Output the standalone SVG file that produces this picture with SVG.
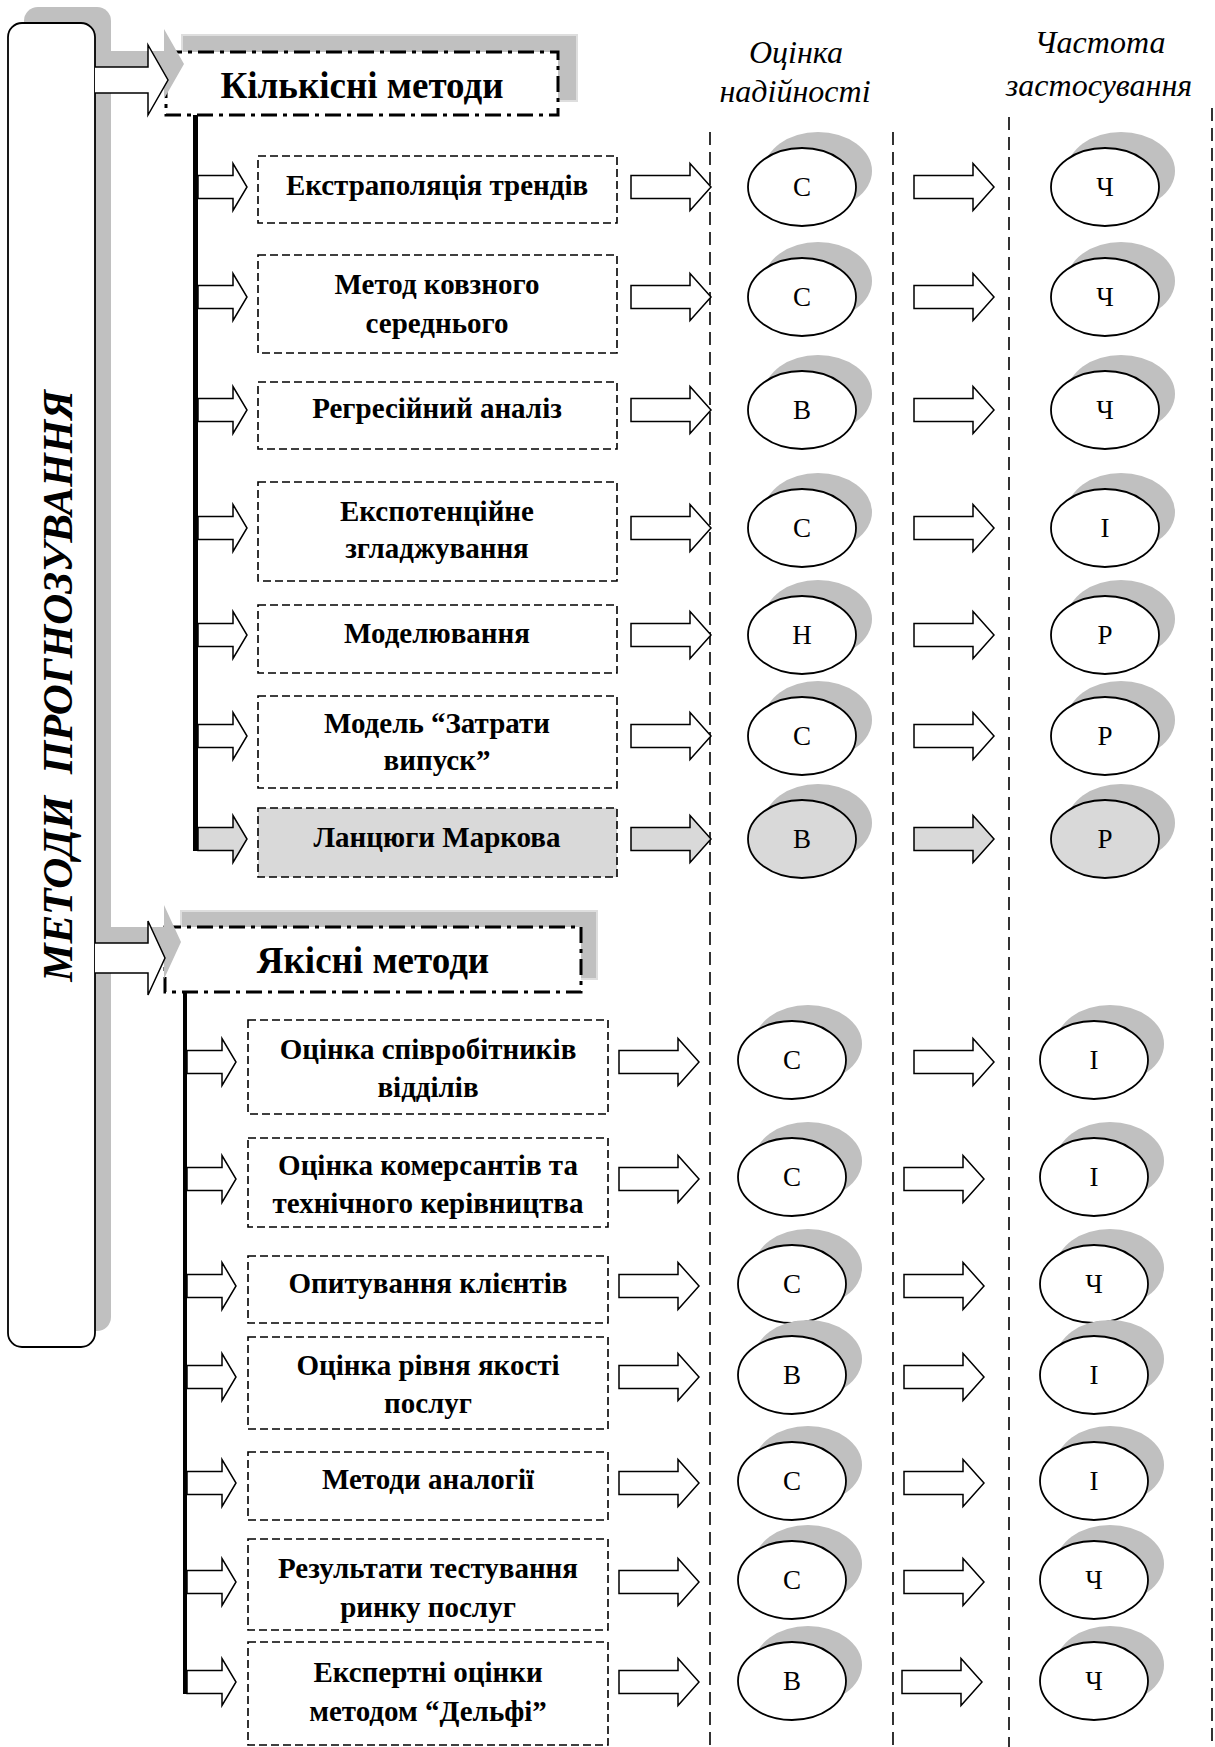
<svg xmlns="http://www.w3.org/2000/svg" width="1215" height="1747" viewBox="0 0 1215 1747">
<style>
.shadow{fill:#c0c0c0;stroke:none}
.hshadow{fill:#c0c0c0;stroke:#dedede;stroke-width:2}
.head{fill:#fff;stroke:#000;stroke-width:3;stroke-dasharray:16 6 4 6}
.box{fill:#fff;stroke:#000;stroke-width:1.6;stroke-dasharray:8 4}
.box.g{fill:#d9d9d9}
.arr{fill:#fff;stroke:#000;stroke-width:1.5;stroke-linejoin:miter}
.arr.g{fill:#d9d9d9}
.ell{fill:#fff;stroke:#000;stroke-width:1.8}
.ell.g{fill:#d9d9d9}
.vl{stroke:#000;stroke-width:1.6;stroke-dasharray:13 7;fill:none}
.t{font-family:"Liberation Serif","Times New Roman","DejaVu Serif",serif;font-weight:bold;font-size:29px;text-anchor:middle;fill:#000}
.ht{font-family:"Liberation Serif","Times New Roman","DejaVu Serif",serif;font-weight:bold;font-size:37px;text-anchor:middle;fill:#000}
.lt{font-family:"Liberation Serif","Times New Roman","DejaVu Serif",serif;font-size:27px;text-anchor:middle;fill:#000}
.ct{font-family:"Liberation Serif","Times New Roman","DejaVu Serif",serif;font-style:italic;font-size:32px;text-anchor:middle;fill:#000}
.title{font-family:"Liberation Serif","Times New Roman","DejaVu Serif",serif;font-style:italic;font-weight:bold;font-size:43px;text-anchor:middle;fill:#000}
</style>
<defs>
<path id="sa" d="M0,-11.5 H35 V-23.5 L49,0 L35,23.5 V11.5 H0 Z"/>
<path id="ra" d="M0,-11.5 H59 V-23.5 L80,0 L59,23.5 V11.5 H0 Z"/>
<ellipse id="el" cx="0" cy="0" rx="54" ry="39"/>
</defs>

<!-- column guides -->
<g id="guides">
<line class="vl" x1="710" y1="132" x2="710" y2="1747"/>
<line class="vl" x1="893" y1="132" x2="893" y2="1747"/>
<line class="vl" x1="1009" y1="117" x2="1009" y2="1747"/>
<line class="vl" x1="1212" y1="108" x2="1212" y2="1747"/>
</g>

<g id="col-headers">
<text class="ct" x="796" y="63">Оцінка</text>
<text class="ct" x="795" y="102">надійності</text>
<text class="ct" x="1100" y="53">Частота</text>
<text class="ct" x="1099" y="96">застосування</text>
</g>

<!-- headings -->
<g id="heading-quant">
<rect class="hshadow" x="182" y="35" width="395" height="66"/>
<rect class="head" x="166" y="52" width="392" height="63"/>
<text class="ht" x="362" y="98">Кількісні методи</text>
</g>
<g id="heading-qual">
<rect class="hshadow" x="181" y="911" width="416" height="68"/>
<rect class="head" x="165" y="927" width="416" height="65"/>
<text class="ht" x="373" y="973">Якісні методи</text>
</g>

<!-- main box -->
<g id="main">
<g transform="translate(16,-16)">
<rect class="shadow" x="8" y="23" width="87" height="1324" rx="14"/>
<path class="shadow" d="M95,67 H148 V45 L168,80 L148,115 V93 H95 Z"/>
<path class="shadow" d="M95,943 H148 V921 L165,958 L148,995 V973 H95 Z"/>
</g>
<rect x="8" y="23" width="87" height="1324" rx="14" fill="#fff" stroke="#000" stroke-width="1.8"/>
<text class="title" transform="translate(72,686) rotate(-90)" xml:space="preserve">МЕТОДИ  ПРОГНОЗУВАННЯ</text>
</g>

<g id="connectors">
<path class="arr" d="M95,67 H148 V45 L168,80 L148,115 V93 H95"/>
<path class="arr" d="M95,943 H148 V921 L165,958 L148,995 V973 H95"/>
<rect x="193" y="115" width="5" height="736" fill="#000"/>
<rect x="183" y="992" width="4" height="702" fill="#000"/>

<!-- quantitative row arrows -->
<use href="#sa" class="arr" x="198" y="187"/>
<use href="#sa" class="arr" x="198" y="297"/>
<use href="#sa" class="arr" x="198" y="410"/>
<use href="#sa" class="arr" x="198" y="528"/>
<use href="#sa" class="arr" x="198" y="635"/>
<use href="#sa" class="arr" x="198" y="736"/>
<use href="#sa" class="arr g" x="198" y="839"/>

<use href="#ra" class="arr" x="631" y="187"/>
<use href="#ra" class="arr" x="631" y="297"/>
<use href="#ra" class="arr" x="631" y="410"/>
<use href="#ra" class="arr" x="631" y="528"/>
<use href="#ra" class="arr" x="631" y="635"/>
<use href="#ra" class="arr" x="631" y="736"/>
<use href="#ra" class="arr g" x="631" y="839"/>

<use href="#ra" class="arr" x="914" y="187"/>
<use href="#ra" class="arr" x="914" y="297"/>
<use href="#ra" class="arr" x="914" y="410"/>
<use href="#ra" class="arr" x="914" y="528"/>
<use href="#ra" class="arr" x="914" y="635"/>
<use href="#ra" class="arr" x="914" y="736"/>
<use href="#ra" class="arr g" x="914" y="839"/>

<!-- qualitative row arrows -->
<use href="#sa" class="arr" x="187" y="1062"/>
<use href="#sa" class="arr" x="187" y="1179"/>
<use href="#sa" class="arr" x="187" y="1286"/>
<use href="#sa" class="arr" x="187" y="1377"/>
<use href="#sa" class="arr" x="187" y="1483"/>
<use href="#sa" class="arr" x="187" y="1582"/>
<use href="#sa" class="arr" x="187" y="1682"/>

<use href="#ra" class="arr" x="619" y="1062"/>
<use href="#ra" class="arr" x="619" y="1179"/>
<use href="#ra" class="arr" x="619" y="1286"/>
<use href="#ra" class="arr" x="619" y="1377"/>
<use href="#ra" class="arr" x="619" y="1483"/>
<use href="#ra" class="arr" x="619" y="1582"/>
<use href="#ra" class="arr" x="619" y="1682"/>

<use href="#ra" class="arr" x="914" y="1062"/>
<use href="#ra" class="arr" x="904" y="1179"/>
<use href="#ra" class="arr" x="904" y="1286"/>
<use href="#ra" class="arr" x="904" y="1377"/>
<use href="#ra" class="arr" x="904" y="1483"/>
<use href="#ra" class="arr" x="904" y="1582"/>
<use href="#ra" class="arr" x="902" y="1682"/>
</g>

<!-- quantitative methods -->
<g id="q1"><rect class="box" x="258" y="156" width="359" height="67"/><text class="t" x="437" y="195">Екстраполяція трендів</text></g>
<g id="q2"><rect class="box" x="258" y="255" width="359" height="98"/><text class="t" x="437" y="294">Метод ковзного</text><text class="t" x="437" y="333">середнього</text></g>
<g id="q3"><rect class="box" x="258" y="382" width="359" height="67"/><text class="t" x="437" y="418">Регресійний аналіз</text></g>
<g id="q4"><rect class="box" x="258" y="482" width="359" height="99"/><text class="t" x="437" y="521">Експотенційне</text><text class="t" x="437" y="558">згладжування</text></g>
<g id="q5"><rect class="box" x="258" y="605" width="359" height="68"/><text class="t" x="437" y="643">Моделювання</text></g>
<g id="q6"><rect class="box" x="258" y="696" width="359" height="92"/><text class="t" x="437" y="733">Модель “Затрати</text><text class="t" x="437" y="770">випуск”</text></g>
<g id="q7"><rect class="box g" x="258" y="808" width="359" height="69"/><text class="t" x="437" y="847">Ланцюги Маркова</text></g>

<!-- qualitative methods -->
<g id="k1"><rect class="box" x="248" y="1020" width="360" height="94"/><text class="t" x="428" y="1059">Оцінка співробітників</text><text class="t" x="428" y="1097">відділів</text></g>
<g id="k2"><rect class="box" x="248" y="1138" width="360" height="89"/><text class="t" x="428" y="1175">Оцінка комерсантів та</text><text class="t" x="428" y="1213">технічного керівництва</text></g>
<g id="k3"><rect class="box" x="248" y="1256" width="360" height="67"/><text class="t" x="428" y="1293">Опитування клієнтів</text></g>
<g id="k4"><rect class="box" x="248" y="1337" width="360" height="92"/><text class="t" x="428" y="1375">Оцінка рівня якості</text><text class="t" x="428" y="1413">послуг</text></g>
<g id="k5"><rect class="box" x="248" y="1452" width="360" height="68"/><text class="t" x="428" y="1489">Методи аналогії</text></g>
<g id="k6"><rect class="box" x="248" y="1539" width="360" height="91"/><text class="t" x="428" y="1578">Результати тестування</text><text class="t" x="428" y="1617">ринку послуг</text></g>
<g id="k7"><rect class="box" x="248" y="1642" width="360" height="103"/><text class="t" x="428" y="1682">Експертні оцінки</text><text class="t" x="428" y="1721">методом “Дельфі”</text></g>

<!-- reliability / frequency circles -->
<g id="circles">
<g id="c-q1a"><use href="#el" class="shadow" x="818" y="171"/><use href="#el" class="ell" x="802" y="187"/><text class="lt" x="802" y="196">С</text></g>
<g id="c-q1b"><use href="#el" class="shadow" x="1121" y="171"/><use href="#el" class="ell" x="1105" y="187"/><text class="lt" x="1105" y="196">Ч</text></g>
<g id="c-q2a"><use href="#el" class="shadow" x="818" y="281"/><use href="#el" class="ell" x="802" y="297"/><text class="lt" x="802" y="306">С</text></g>
<g id="c-q2b"><use href="#el" class="shadow" x="1121" y="281"/><use href="#el" class="ell" x="1105" y="297"/><text class="lt" x="1105" y="306">Ч</text></g>
<g id="c-q3a"><use href="#el" class="shadow" x="818" y="394"/><use href="#el" class="ell" x="802" y="410"/><text class="lt" x="802" y="419">В</text></g>
<g id="c-q3b"><use href="#el" class="shadow" x="1121" y="394"/><use href="#el" class="ell" x="1105" y="410"/><text class="lt" x="1105" y="419">Ч</text></g>
<g id="c-q4a"><use href="#el" class="shadow" x="818" y="512"/><use href="#el" class="ell" x="802" y="528"/><text class="lt" x="802" y="537">С</text></g>
<g id="c-q4b"><use href="#el" class="shadow" x="1121" y="512"/><use href="#el" class="ell" x="1105" y="528"/><text class="lt" x="1105" y="537">І</text></g>
<g id="c-q5a"><use href="#el" class="shadow" x="818" y="619"/><use href="#el" class="ell" x="802" y="635"/><text class="lt" x="802" y="644">Н</text></g>
<g id="c-q5b"><use href="#el" class="shadow" x="1121" y="619"/><use href="#el" class="ell" x="1105" y="635"/><text class="lt" x="1105" y="644">Р</text></g>
<g id="c-q6a"><use href="#el" class="shadow" x="818" y="720"/><use href="#el" class="ell" x="802" y="736"/><text class="lt" x="802" y="745">С</text></g>
<g id="c-q6b"><use href="#el" class="shadow" x="1121" y="720"/><use href="#el" class="ell" x="1105" y="736"/><text class="lt" x="1105" y="745">Р</text></g>
<g id="c-q7a"><use href="#el" class="shadow" x="818" y="823"/><use href="#el" class="ell g" x="802" y="839"/><text class="lt" x="802" y="848">В</text></g>
<g id="c-q7b"><use href="#el" class="shadow" x="1121" y="823"/><use href="#el" class="ell g" x="1105" y="839"/><text class="lt" x="1105" y="848">Р</text></g>

<g id="c-k1a"><use href="#el" class="shadow" x="808" y="1044"/><use href="#el" class="ell" x="792" y="1060"/><text class="lt" x="792" y="1069">С</text></g>
<g id="c-k1b"><use href="#el" class="shadow" x="1110" y="1044"/><use href="#el" class="ell" x="1094" y="1060"/><text class="lt" x="1094" y="1069">І</text></g>
<g id="c-k2a"><use href="#el" class="shadow" x="808" y="1161"/><use href="#el" class="ell" x="792" y="1177"/><text class="lt" x="792" y="1186">С</text></g>
<g id="c-k2b"><use href="#el" class="shadow" x="1110" y="1161"/><use href="#el" class="ell" x="1094" y="1177"/><text class="lt" x="1094" y="1186">І</text></g>
<g id="c-k3a"><use href="#el" class="shadow" x="808" y="1268"/><use href="#el" class="ell" x="792" y="1284"/><text class="lt" x="792" y="1293">С</text></g>
<g id="c-k3b"><use href="#el" class="shadow" x="1110" y="1268"/><use href="#el" class="ell" x="1094" y="1284"/><text class="lt" x="1094" y="1293">Ч</text></g>
<g id="c-k4a"><use href="#el" class="shadow" x="808" y="1359"/><use href="#el" class="ell" x="792" y="1375"/><text class="lt" x="792" y="1384">В</text></g>
<g id="c-k4b"><use href="#el" class="shadow" x="1110" y="1359"/><use href="#el" class="ell" x="1094" y="1375"/><text class="lt" x="1094" y="1384">І</text></g>
<g id="c-k5a"><use href="#el" class="shadow" x="808" y="1465"/><use href="#el" class="ell" x="792" y="1481"/><text class="lt" x="792" y="1490">С</text></g>
<g id="c-k5b"><use href="#el" class="shadow" x="1110" y="1465"/><use href="#el" class="ell" x="1094" y="1481"/><text class="lt" x="1094" y="1490">І</text></g>
<g id="c-k6a"><use href="#el" class="shadow" x="808" y="1564"/><use href="#el" class="ell" x="792" y="1580"/><text class="lt" x="792" y="1589">С</text></g>
<g id="c-k6b"><use href="#el" class="shadow" x="1110" y="1564"/><use href="#el" class="ell" x="1094" y="1580"/><text class="lt" x="1094" y="1589">Ч</text></g>
<g id="c-k7a"><use href="#el" class="shadow" x="808" y="1665"/><use href="#el" class="ell" x="792" y="1681"/><text class="lt" x="792" y="1690">В</text></g>
<g id="c-k7b"><use href="#el" class="shadow" x="1110" y="1665"/><use href="#el" class="ell" x="1094" y="1681"/><text class="lt" x="1094" y="1690">Ч</text></g>
</g>
</svg>
